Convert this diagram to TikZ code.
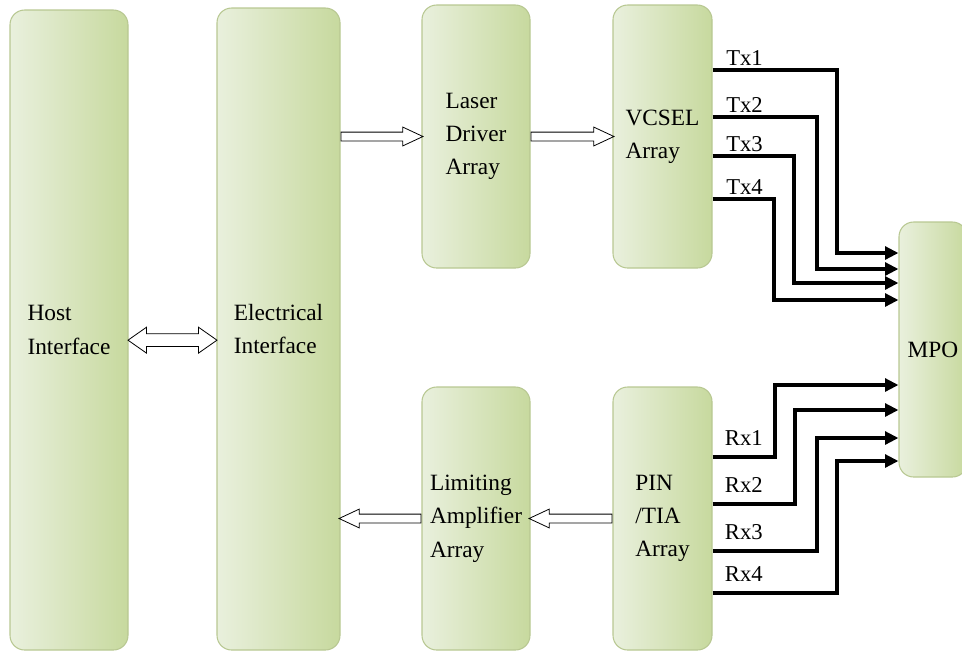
\documentclass[tikz,border=0pt]{standalone}
\usepackage{fontspec}
\setmainfont{Liberation Serif}
\usepackage{tikz}
\usetikzlibrary{arrows.meta,positioning,shapes.arrows,calc}

\definecolor{boxlight}{RGB}{233,240,221}
\definecolor{boxdark}{RGB}{199,217,158}
\definecolor{boxedge}{RGB}{184,200,146}

\begin{document}
\begin{tikzpicture}[x=0.75pt,y=-0.75pt,
  box/.style={draw=boxedge, line width=0.8pt, rounded corners=11pt, left color=boxlight, right color=boxdark,
    align=left, inner sep=0pt, font=\fontsize{17.5}{25}\selectfont},
  hollow/.style={single arrow, draw=black, fill=white, line width=0.6pt, inner sep=0pt, text height=6pt, text depth=0pt,
    single arrow head extend=3.75pt, single arrow tip angle=50, single arrow head indent=0pt, anchor=tail},
  twoway/.style={double arrow, draw=black, fill=white, line width=0.6pt, inner sep=0pt, text height=9pt, text depth=0pt,
    double arrow head extend=4.9pt, double arrow tip angle=70, double arrow head indent=0pt},
  sig/.style={line width=2.6pt, -{Triangle[length=10pt,width=9.5pt]}},
  lbl/.style={font=\fontsize{17}{20}\selectfont, inner sep=0pt}]

\useasboundingbox (0,0) rectangle (962,654);

% blocks
\node[box, minimum width=88.5pt, minimum height=480pt] (host) at (69,330) {Host\\Interface};
\node[box, minimum width=92.25pt, minimum height=481.5pt] (elec) at (278.5,329) {Electrical\\Interface};
\node[box, minimum width=81pt, minimum height=197.25pt] (laser) at (476,136.5) {Laser\\Driver\\Array};
\node[box, minimum width=74.25pt, minimum height=197.25pt] (vcsel) at (662.5,136.5) {VCSEL\\Array};
\node[box, minimum width=81pt, minimum height=197.25pt] (limit) at (476,518.5) {Limiting\\Amplifier\\Array};
\node[box, minimum width=74.25pt, minimum height=197.25pt] (pin) at (662.5,518.5) {PIN\\/TIA\\Array};
\node[box, minimum width=51pt, minimum height=191.25pt] (mpo) at (933,349.5) {MPO};

% hollow arrows
\node[twoway, minimum height=66.75pt, yshift=-8pt] (hostelec) at ($(host.east)!.5!(elec.west)$) {};
\node[hollow, minimum height=61.5pt] (eleclaser) at (elec.east |- laser.west) {};
\node[hollow, minimum height=62.25pt] (laservcsel) at (laser.east) {};
\node[hollow, minimum height=62.25pt, shape border rotate=180] (pinlimit) at (pin.west) {};
\node[hollow, minimum height=61.5pt, shape border rotate=180] (limitelec) at (limit.west) {};

% transmit lanes
\foreach \i/\ya/\xv/\yb in {1/70/837/253, 2/117/817/269, 3/156/794/283, 4/199/774/300}
  \draw[sig] (vcsel.east |- 0,\ya) node[lbl, above right, xshift=9pt, yshift=2pt] (tx\i) {Tx\i}
    -| (\xv,\yb) -- (mpo.west |- 0,\yb);

% receive lanes
\foreach \i/\ya/\xv/\yb in {1/457/775/385, 2/504/795/410, 3/551/817/438, 4/593/837/461}
  \draw[sig] (pin.east |- 0,\ya) node[lbl, above right, xshift=8pt, yshift=7pt] (rx\i) {Rx\i}
    -| (\xv,\yb) -- (mpo.west |- 0,\yb);

\end{tikzpicture}
\end{document}
